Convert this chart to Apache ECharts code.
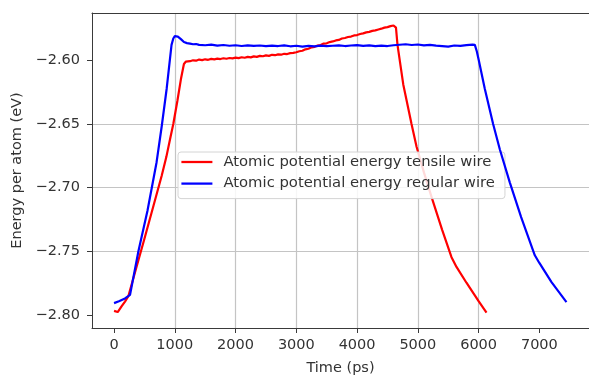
<!DOCTYPE html>
<html>
<head>
<meta charset="utf-8">
<script src="https://cdn.jsdelivr.net/npm/echarts@6/dist/echarts.min.js"></script>
<style>
html,body{margin:0;padding:0;background:#fff;}
#chart{width:589px;height:381px;}
</style>
</head>
<body>
<div id="chart"></div>
<script>
// ---- data ----
const seriesNames = ['Atomic potential energy tensile wire', 'Atomic potential energy regular wire'];

const timeTensile = [0,16,60,126,180,235,350,500,650,784,860,930,975,1042,1100,1150,1180,
 1250,1300,1350,1400,1450,1500,1550,1600,1650,1700,1750,1800,1850,1900,1950,2000,2050,2100,2150,2200,2250,2300,2350,2400,2450,2500,2550,2600,2650,2700,2750,2800,2850,2900,2950,3000,
 3050,3100,3150,3200,3250,3300,3350,3400,3450,3500,3550,3600,3650,3700,3750,3800,3850,3900,3950,4000,4050,4100,4150,4200,4250,4300,4350,4400,4450,4500,4550,4600,4630,
 4640,4665,4760,4896,4979,5100,5225,5400,5554,5636,5800,6000,6130];
const energyTensile = [-2.7966,-2.7980,-2.7975,-2.7928,-2.7893,-2.7851,-2.7655,-2.7400,-2.7140,-2.6906,-2.6760,-2.6600,-2.6500,-2.6320,-2.6150,-2.6030,-2.6012,
 -2.6008,-2.6001,-2.6004,-2.5995,-2.5999,-2.5993,-2.5997,-2.5990,-2.5994,-2.5988,-2.5991,-2.5985,-2.5989,-2.5983,-2.5986,-2.5980,-2.5984,-2.5977,-2.5981,-2.5974,-2.5978,-2.5970,-2.5974,-2.5966,-2.5969,-2.5962,-2.5966,-2.5958,-2.5961,-2.5954,-2.5957,-2.5950,-2.5952,-2.5945,-2.5943,-2.5938,
 -2.5930,-2.5926,-2.5915,-2.5910,-2.5899,-2.5895,-2.5886,-2.5881,-2.5870,-2.5868,-2.5858,-2.5853,-2.5845,-2.5841,-2.5830,-2.5826,-2.5818,-2.5815,-2.5806,-2.5803,-2.5795,-2.5790,-2.5782,-2.5778,-2.5770,-2.5766,-2.5759,-2.5753,-2.5745,-2.5741,-2.5733,-2.5728,-2.5732,
 -2.5745,-2.5880,-2.6190,-2.6500,-2.6679,-2.6880,-2.7072,-2.7330,-2.7545,-2.7621,-2.7745,-2.7890,-2.7980];

const timeRegular = [0,80,180,263,400,550,700,784,867,946,975,1000,1020,1050,1100,1150,1200,1250,1300,1350,1400,
 1500,1600,1700,1800,1900,2000,2100,2200,2300,2400,2500,2600,2700,2800,2900,3000,3100,3200,3300,3400,3500,3600,3700,3800,3900,4000,4100,4200,4300,4400,4500,4600,4700,4800,4900,5000,5100,5200,5300,5400,5500,5600,5700,5800,5900,5938,
 5970,6003,6100,6239,6350,6513,6700,6925,7000,7200,7446];
const energyRegular = [-2.7905,-2.7890,-2.7868,-2.7840,-2.7500,-2.7180,-2.6800,-2.6520,-2.6220,-2.5880,-2.5830,-2.5812,-2.5808,-2.5815,-2.5835,-2.5858,-2.5866,-2.5870,-2.5875,-2.5873,-2.5880,
 -2.5883,-2.5878,-2.5886,-2.5881,-2.5887,-2.5883,-2.5889,-2.5884,-2.5888,-2.5885,-2.5890,-2.5886,-2.5889,-2.5884,-2.5891,-2.5887,-2.5893,-2.5888,-2.5892,-2.5886,-2.5890,-2.5887,-2.5884,-2.5889,-2.5885,-2.5882,-2.5888,-2.5884,-2.5890,-2.5886,-2.5889,-2.5883,-2.5879,-2.5875,-2.5881,-2.5877,-2.5884,-2.5880,-2.5886,-2.5889,-2.5893,-2.5885,-2.5888,-2.5882,-2.5878,-2.5880,
 -2.5930,-2.6000,-2.6220,-2.6500,-2.6700,-2.6958,-2.7230,-2.7530,-2.7590,-2.7740,-2.7897];

const xTicks = [0,1000,2000,3000,4000,5000,6000,7000];
const yTicks = [-2.80,-2.75,-2.70,-2.65,-2.60];

// ---- chart ----
const zip = (xs, ys) => xs.map((x, i) => [x, ys[i]]);
const chart = echarts.init(document.getElementById('chart'), null, {renderer: 'canvas'});
const txt = '#333';
const fontFamily = 'DejaVu Sans';
const split = {show: true, showMinLine: false, showMaxLine: false, lineStyle: {color: '#c4c4c4', width: 1.2}};

chart.setOption({
  animation: false,
  backgroundColor: '#fff',
  grid: {left: 92, top: 13, width: 497, height: 323, show: false},
  legend: {
    left: 178, top: 152, orient: 'vertical',
    backgroundColor: 'rgba(255,255,255,0.85)', borderColor: '#d4d4d4', borderWidth: 1, borderRadius: 3,
    padding: [2.5, 10, 7.5, 3.4],
    itemWidth: 31, itemHeight: 14, itemGap: 6.6,
    icon: 'path://M0,0H30V2.2H0Z',
    textStyle: {color: txt, fontSize: 14.8, fontFamily: fontFamily, lineHeight: 15, padding: [0, 0, 0, 6]},
    data: seriesNames
  },
  xAxis: [{
    type: 'value', min: -363, max: 7817,
    name: 'Time (ps)', nameLocation: 'middle', nameGap: 33,
    nameTextStyle: {color: txt, fontSize: 14.5, fontFamily: fontFamily},
    axisLine: {onZero: false, lineStyle: {color: '#3a3a3a', width: 1}},
    axisTick: {show: true, length: 5, customValues: xTicks, lineStyle: {color: '#3a3a3a', width: 1}},
    axisLabel: {customValues: xTicks, color: txt, fontSize: 14.5, fontFamily: fontFamily, margin: 10,
      formatter: v => String(Math.round(v))},
    splitLine: split
  }, {
    type: 'value', position: 'top', min: -363, max: 7817,
    axisLine: {show: true, onZero: false, lineStyle: {color: '#3a3a3a', width: 1}},
    axisTick: {show: false}, axisLabel: {show: false}, splitLine: {show: false}
  }],
  yAxis: {
    type: 'value', min: -2.810, max: -2.563,
    name: 'Energy per atom (eV)', nameLocation: 'middle', nameGap: 64,
    nameTextStyle: {color: txt, fontSize: 14.5, fontFamily: fontFamily},
    axisLine: {show: true, onZero: false, lineStyle: {color: '#3a3a3a', width: 1}},
    axisTick: {show: true, length: 5, customValues: yTicks, lineStyle: {color: '#3a3a3a', width: 1}},
    axisLabel: {customValues: yTicks, color: txt, fontSize: 14.5, fontFamily: fontFamily, margin: 12,
      formatter: v => '\u2212' + Math.abs(v).toFixed(2)},
    splitLine: split
  },
  series: [
    {name: seriesNames[0], type: 'line', data: zip(timeTensile, energyTensile), symbol: 'none', color: '#ff0000',
     lineStyle: {color: '#ff0000', width: 2.2}, z: 3},
    {name: seriesNames[1], type: 'line', data: zip(timeRegular, energyRegular), symbol: 'none', color: '#0000ff',
     lineStyle: {color: '#0000ff', width: 2.2}, z: 4}
  ]
});
</script>
</body>
</html>
